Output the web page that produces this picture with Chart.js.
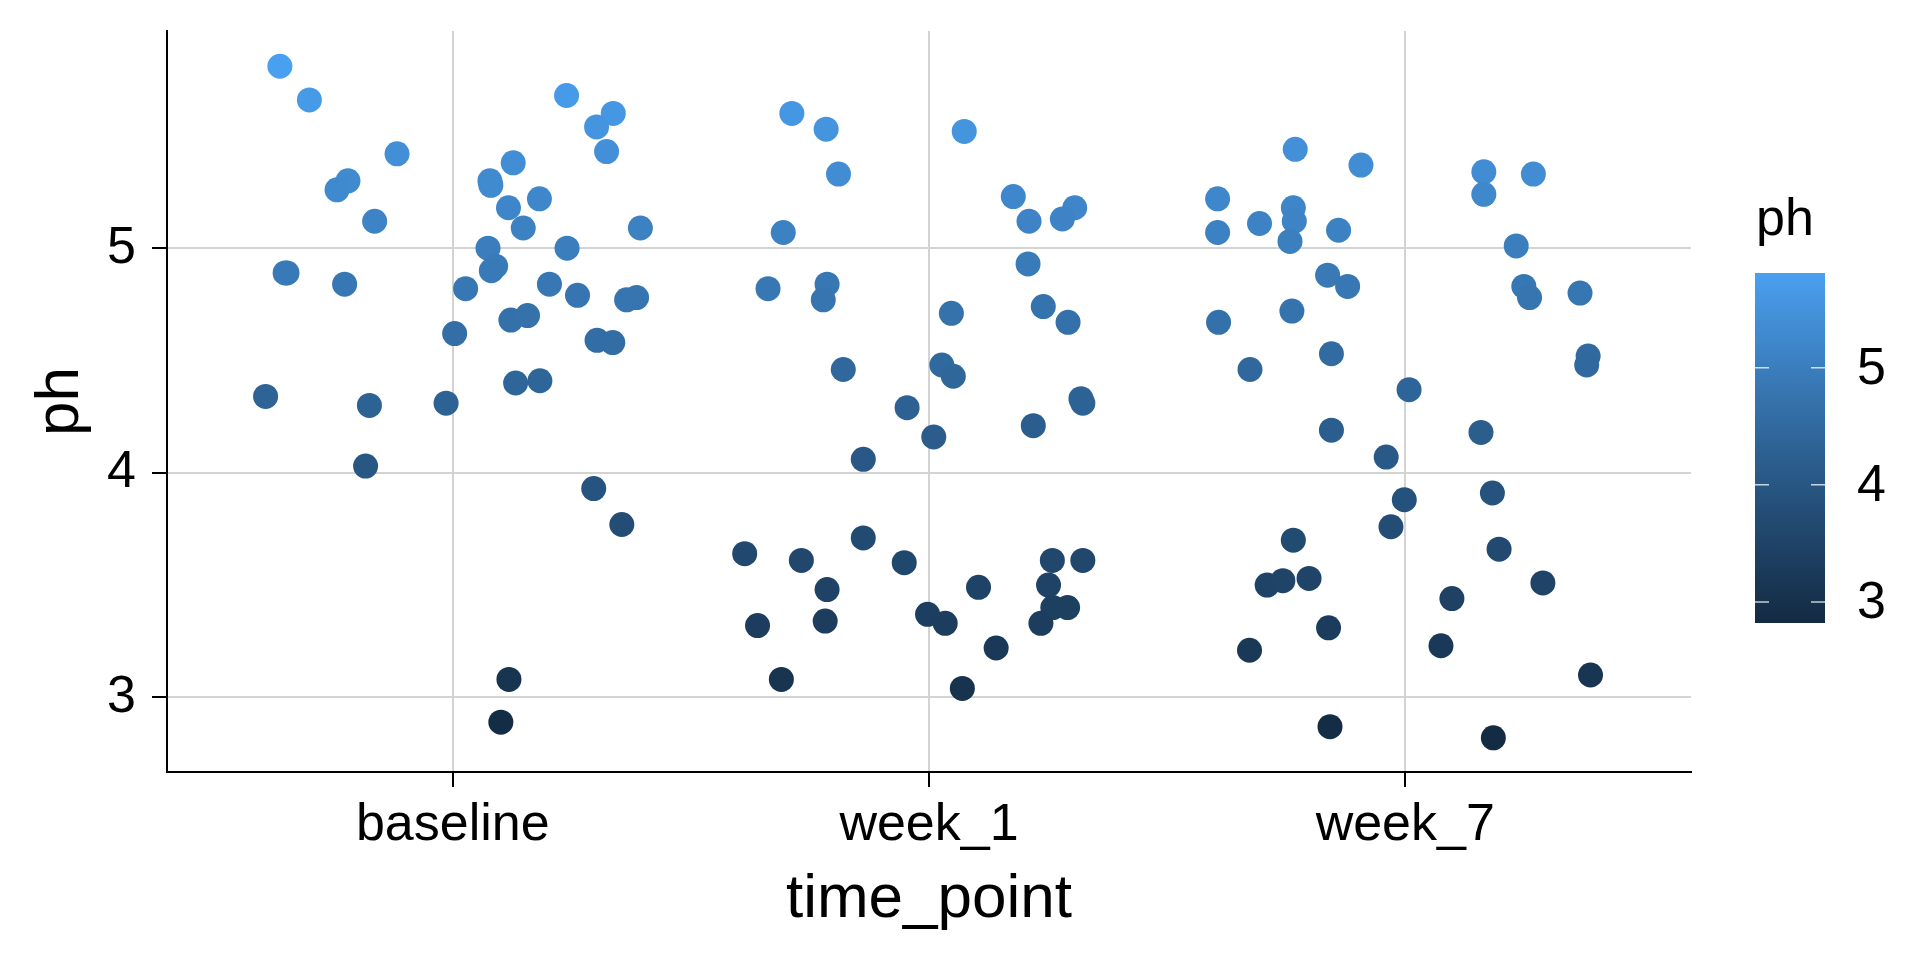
<!DOCTYPE html>
<html>
<head>
<meta charset="utf-8">
<script src="https://cdn.jsdelivr.net/npm/chart.js@4.4.1/dist/chart.umd.min.js"></script>
<style>
  html, body { margin: 0; padding: 0; background: #fff; }
  canvas { display: block; }
</style>
</head>
<body>
<canvas id="phChart" width="1920" height="960"></canvas>
<script>
const timePoints = ['baseline', 'week_1', 'week_7'];

// jittered x position and ph value of each sample
const baselineX = [0.637, 0.699, 0.883, 0.780, 0.757, 0.836, 1.239, 1.337, 1.302, 1.323, 1.127, 1.078, 1.080, 1.182, 1.117, 1.148, 1.394, 1.074, 1.240, 0.652, 0.648, 0.773, 1.090, 1.081, 1.027, 1.203, 1.262, 1.365, 1.386, 1.004, 1.122, 1.157, 1.303, 1.336, 1.132, 1.183, 0.607, 0.825, 0.986, 0.817, 1.296, 1.355, 1.118, 1.101];
const baselinePh = [5.81, 5.66, 5.42, 5.30, 5.26, 5.12, 5.68, 5.60, 5.54, 5.43, 5.38, 5.30, 5.28, 5.22, 5.18, 5.09, 5.09, 5.00, 5.00, 4.89, 4.89, 4.84, 4.92, 4.90, 4.82, 4.84, 4.79, 4.77, 4.78, 4.62, 4.68, 4.70, 4.59, 4.58, 4.40, 4.41, 4.34, 4.30, 4.31, 4.03, 3.93, 3.77, 3.08, 2.89];

const week1X = [1.712, 1.784, 1.810, 1.694, 2.074, 2.177, 2.306, 2.210, 2.280, 2.208, 1.662, 1.786, 1.778, 2.047, 2.240, 2.292, 1.820, 2.027, 2.051, 1.954, 2.319, 2.323, 2.219, 2.010, 1.862, 1.862, 1.613, 1.732, 1.948, 2.259, 2.323, 1.786, 2.104, 2.251, 2.260, 2.291, 1.640, 1.782, 1.997, 2.034, 2.235, 2.141, 1.690, 2.070];
const week1Ph = [5.60, 5.53, 5.33, 5.07, 5.52, 5.23, 5.18, 5.12, 5.13, 4.93, 4.82, 4.84, 4.77, 4.71, 4.74, 4.67, 4.46, 4.48, 4.43, 4.29, 4.33, 4.31, 4.21, 4.16, 4.06, 3.71, 3.64, 3.61, 3.60, 3.61, 3.61, 3.48, 3.49, 3.50, 3.40, 3.40, 3.32, 3.34, 3.37, 3.33, 3.33, 3.22, 3.08, 3.04];

const week7X = [2.769, 2.907, 2.606, 2.606, 2.694, 2.765, 2.767, 2.758, 2.860, 3.165, 3.165, 3.269, 3.233, 2.837, 2.879, 3.249, 3.261, 3.367, 2.608, 2.762, 2.674, 2.845, 3.384, 3.381, 3.008, 2.845, 3.159, 2.960, 2.998, 3.183, 2.970, 2.765, 3.197, 2.710, 2.743, 2.798, 3.289, 3.098, 2.839, 2.673, 3.075, 3.389, 2.842, 3.185];
const week7Ph = [5.44, 5.37, 5.22, 5.07, 5.11, 5.18, 5.12, 5.03, 5.08, 5.34, 5.24, 5.33, 5.01, 4.88, 4.83, 4.83, 4.78, 4.80, 4.67, 4.72, 4.46, 4.53, 4.52, 4.48, 4.37, 4.19, 4.18, 4.07, 3.88, 3.91, 3.76, 3.70, 3.66, 3.50, 3.52, 3.53, 3.51, 3.44, 3.31, 3.21, 3.23, 3.10, 2.87, 2.82];

const yTicks = [3, 4, 5];
const legendTicks = [3, 4, 5];

const lowColor = '#132B43', highColor = '#4AA0F0';
const allPh = baselinePh.concat(week1Ph, week7Ph);
const phMin = Math.min(...allPh), phMax = Math.max(...allPh);

// ggplot style gradient: interpolate in CIE Lab
function hexToRgb(h) {
  return [1, 3, 5].map(i => parseInt(h.slice(i, i + 2), 16));
}
function toLin(c) { c /= 255; return c <= 0.04045 ? c / 12.92 : Math.pow((c + 0.055) / 1.055, 2.4); }
function fromLin(c) {
  const v = c <= 0.0031308 ? 12.92 * c : 1.055 * Math.pow(c, 1 / 2.4) - 0.055;
  return Math.round(Math.max(0, Math.min(1, v)) * 255);
}
function rgbToLab(rgb) {
  const [r, g, b] = rgb.map(toLin);
  const f = t => t > 0.008856 ? Math.cbrt(t) : 7.787 * t + 16 / 116;
  const fx = f((0.4124 * r + 0.3576 * g + 0.1805 * b) / 0.95047);
  const fy = f(0.2126 * r + 0.7152 * g + 0.0722 * b);
  const fz = f((0.0193 * r + 0.1192 * g + 0.9505 * b) / 1.08883);
  return [116 * fy - 16, 500 * (fx - fy), 200 * (fy - fz)];
}
function labToRgb([L, a, bb]) {
  const fy = (L + 16) / 116, fx = fy + a / 500, fz = fy - bb / 200;
  const inv = t => t > 0.206893 ? t * t * t : (t - 16 / 116) / 7.787;
  const X = inv(fx) * 0.95047, Y = inv(fy), Z = inv(fz) * 1.08883;
  const r = 3.2406 * X - 1.5372 * Y - 0.4986 * Z;
  const g = -0.9689 * X + 1.8758 * Y + 0.0415 * Z;
  const b = 0.0557 * X - 0.2040 * Y + 1.0570 * Z;
  return [fromLin(r), fromLin(g), fromLin(b)];
}
const labLow = rgbToLab(hexToRgb(lowColor)), labHigh = rgbToLab(hexToRgb(highColor));
function phColor(v) {
  const t = Math.max(0, Math.min(1, (v - phMin) / (phMax - phMin)));
  const lab = labLow.map((c, i) => c + (labHigh[i] - c) * t);
  const [r, g, b] = labToRgb(lab);
  return `rgb(${r}, ${g}, ${b})`;
}

function makeDataset(xs, ys) {
  return {
    data: xs.map((x, i) => ({ x, y: ys[i] })),
    pointBackgroundColor: ys.map(phColor),
    pointBorderWidth: 0,
    pointRadius: 12.5,
    pointHoverRadius: 12.5
  };
}

const colorbar = {
  id: 'colorbar',
  afterDraw(chart) {
    const ctx = chart.ctx;
    const left = 1755, top = 273, w = 70, h = 350;
    const grad = ctx.createLinearGradient(0, top + h, 0, top);
    for (let i = 0; i <= 30; i++) {
      grad.addColorStop(i / 30, phColor(phMin + (phMax - phMin) * i / 30));
    }
    ctx.save();
    ctx.fillStyle = grad;
    ctx.fillRect(left, top, w, h);

    ctx.strokeStyle = 'rgba(255,255,255,0.75)';
    ctx.lineWidth = 1.5;
    ctx.fillStyle = '#000';
    ctx.font = '52px "Liberation Sans", Arial, sans-serif';
    ctx.textAlign = 'left';
    ctx.textBaseline = 'middle';
    legendTicks.forEach(v => {
      const y = top + h - (v - phMin) / (phMax - phMin) * h;
      ctx.beginPath();
      ctx.moveTo(left, y); ctx.lineTo(left + 14, y);
      ctx.moveTo(left + w - 14, y); ctx.lineTo(left + w, y);
      ctx.stroke();
      ctx.fillText(String(v), 1857, y + 2);
    });

    ctx.textBaseline = 'alphabetic';
    ctx.fillText('ph', 1756, 235);
    ctx.restore();
  }
};

Chart.defaults.font.family = '"Liberation Sans", Arial, sans-serif';
Chart.defaults.color = '#000';

new Chart(document.getElementById('phChart').getContext('2d'), {
  type: 'scatter',
  data: {
    datasets: [
      makeDataset(baselineX, baselinePh),
      makeDataset(week1X, week1Ph),
      makeDataset(week7X, week7Ph)
    ]
  },
  options: {
    responsive: false,
    animation: false,
    events: [],
    layout: { padding: { top: 31, right: 229, left: 0, bottom: 0 } },
    plugins: {
      legend: { display: false },
      tooltip: { enabled: false }
    },
    scales: {
      x: {
        type: 'linear',
        position: 'bottom',
        min: 0.4,
        max: 3.6,
        afterFit: s => { s.height = 188; s.paddingLeft = 0; s.paddingRight = 0; },
        afterBuildTicks: s => { s.ticks = timePoints.map((t, i) => ({ value: i + 1 })); },
        ticks: {
          padding: 7,
          font: { size: 52 },
          color: '#000',
          maxRotation: 0,
          callback: v => timePoints[Math.round(v) - 1]
        },
        grid: { color: '#d3d3d3', lineWidth: 2, tickColor: '#000', tickWidth: 2, tickLength: 15 },
        border: { color: '#000', width: 2 },
        title: { display: true, text: 'time_point', font: { size: 62 }, color: '#000', padding: { top: 0, bottom: 23 } }
      },
      y: {
        type: 'linear',
        min: 2.668,
        max: 5.967,
        afterFit: s => { s.width = 167; s.paddingTop = 0; s.paddingBottom = 0; },
        afterBuildTicks: s => { s.ticks = yTicks.map(v => ({ value: v })); },
        ticks: {
          padding: 16,
          font: { size: 52 },
          color: '#000'
        },
        grid: { color: '#d3d3d3', lineWidth: 2, tickColor: '#000', tickWidth: 2, tickLength: 15 },
        border: { color: '#000', width: 2 },
        title: { display: true, text: 'ph', font: { size: 62 }, color: '#000', padding: { top: 24, bottom: 0 } }
      }
    }
  },
  plugins: [colorbar]
});
</script>
</body>
</html>
